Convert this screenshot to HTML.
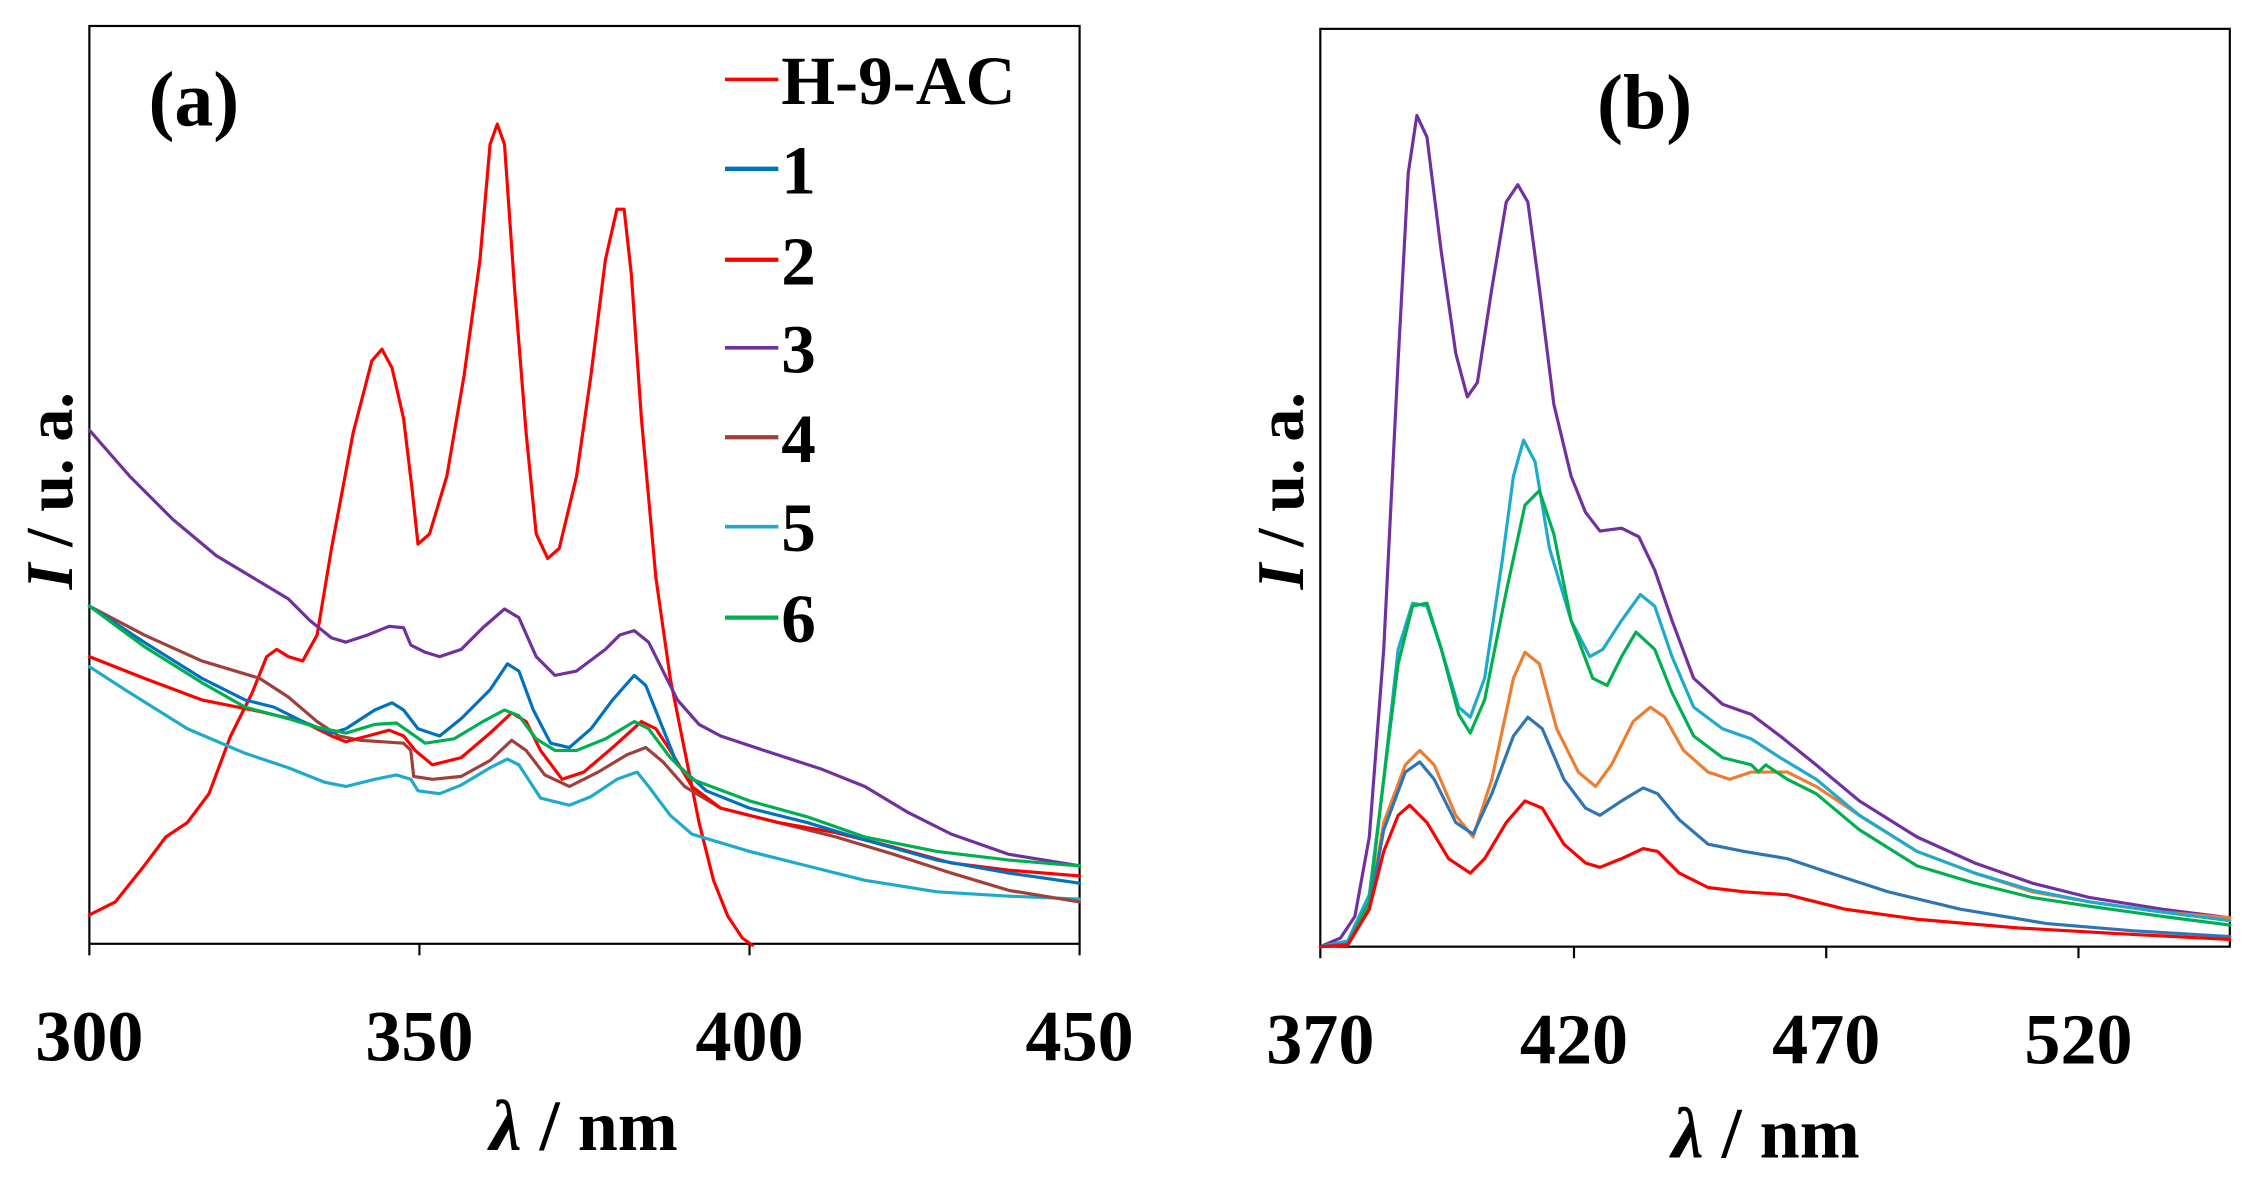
<!DOCTYPE html>
<html><head><meta charset="utf-8"><style>
html,body{margin:0;padding:0;background:#fff;}
svg{display:block;}
text{font-family:"Liberation Serif",serif;font-weight:bold;fill:#000;}
polyline{fill:none;stroke-width:2.2;stroke-linejoin:round;stroke-linecap:round;}
</style></head><body>
<svg width="2250" height="1192" viewBox="0 0 1561 826" preserveAspectRatio="none" xmlns="http://www.w3.org/2000/svg">
<rect x="0" y="0" width="1561" height="826" fill="#fff"/>
<rect x="62" y="18" width="687" height="636" fill="none" stroke="#000" stroke-width="1.5"/>
<g stroke="#000" stroke-width="1.5">
<line x1="62" y1="654" x2="62" y2="662"/><line x1="291" y1="654" x2="291" y2="662"/>
<line x1="520" y1="654" x2="520" y2="662"/><line x1="749" y1="654" x2="749" y2="662"/>
</g>
<g font-size="50" text-anchor="middle">
<text x="62" y="735">300</text><text x="291" y="735">350</text><text x="520" y="735">400</text><text x="749" y="735">450</text>
</g>
<text x="405" y="797" font-size="50" text-anchor="middle"><tspan font-style="italic">λ</tspan> / nm</text>
<text transform="translate(50,340) rotate(-90)" font-size="46" text-anchor="middle"><tspan font-style="italic">I</tspan> / u. a.</text>
<text x="103" y="87" font-size="54">(a)</text>
<g font-size="48">
<line x1="503" y1="55" x2="540" y2="55" stroke="#ff0000" stroke-width="2.5"/><text x="542" y="72">H-9-AC</text>
<line x1="503" y1="117" x2="540" y2="117" stroke="#0070c0" stroke-width="3"/><text x="542" y="134">1</text>
<line x1="503" y1="180" x2="540" y2="180" stroke="#ff0000" stroke-width="3"/><text x="542" y="197">2</text>
<line x1="503" y1="241" x2="540" y2="241" stroke="#7030a0" stroke-width="2.5"/><text x="542" y="258">3</text>
<line x1="503" y1="303" x2="540" y2="303" stroke="#a0403a" stroke-width="3"/><text x="542" y="320">4</text>
<line x1="503" y1="365" x2="540" y2="365" stroke="#1eaacc" stroke-width="2.5"/><text x="542" y="382">5</text>
<line x1="503" y1="428" x2="540" y2="428" stroke="#00b050" stroke-width="3"/><text x="542" y="445">6</text>
</g>
<polyline stroke="#ff0000" points="62,634 80,625 100,600 115,580 130,570 145,550 160,510 175,480 185,455 192,450 200,455 210,458 220,440 230,380 245,300 258,250 265,242 272,255 280,290 286,340 290,377 298,370 310,330 322,260 333,180 340,100 345,86 350,100 357,200 365,300 372,370 380,387 388,380 400,330 410,260 420,180 428,145 433,145 438,190 445,290 455,400 465,470 475,520 485,570 495,610 505,635 515,650 522,655"/>
<polyline stroke="#7030a0" points="62,298 90,330 120,360 150,385 180,403 200,415 215,430 230,442 240,445 255,440 270,434 280,435 285,447 295,452 305,455 320,450 335,435 350,422 360,428 372,455 385,468 400,465 420,450 430,440 440,437 450,445 460,465 470,485 485,502 500,510 530,520 570,533 600,545 630,563 660,578 700,592 749,600"/>
<polyline stroke="#1eaacc" points="62,462 90,480 130,505 170,522 200,532 225,542 240,545 260,540 275,537 285,540 290,548 305,550 320,544 340,532 352,526 360,530 375,553 395,558 410,552 428,540 442,535 450,545 465,565 480,578 520,590 560,600 600,610 650,618 700,621 749,623"/>
<polyline stroke="#a0403a" points="62,420 100,440 140,458 180,470 200,483 220,500 235,510 250,513 280,515 285,520 287,538 300,540 320,538 340,527 355,513 365,520 378,537 395,545 415,535 435,523 448,518 460,528 475,545 500,560 540,570 580,580 620,592 660,605 700,617 749,625"/>
<polyline stroke="#ff0000" points="62,455 100,470 140,485 180,493 210,500 230,510 240,514 255,510 270,506 280,510 288,520 300,530 320,525 340,508 355,494 365,500 375,520 390,540 405,535 425,518 445,500 455,505 465,520 480,545 500,560 540,570 580,577 620,587 660,598 700,603 749,607"/>
<polyline stroke="#0070c0" points="62,420 100,445 140,470 170,485 190,490 210,500 230,508 240,505 260,492 272,487 280,492 290,505 305,510 320,498 340,478 352,460 360,465 370,492 382,515 395,518 410,505 425,485 440,468 448,475 458,500 470,530 490,548 520,560 560,570 600,582 650,596 700,605 749,612"/>
<polyline stroke="#00b050" points="62,420 100,448 140,473 170,490 200,498 220,504 240,508 260,502 275,501 285,508 295,515 315,512 335,500 350,492 360,496 372,512 385,520 400,520 420,512 440,500 450,505 465,525 480,540 520,555 560,566 600,580 650,590 700,596 749,600"/>

<rect x="916" y="20" width="631" height="636" fill="none" stroke="#000" stroke-width="1.5"/>
<g stroke="#000" stroke-width="1.5">
<line x1="916" y1="656" x2="916" y2="664"/><line x1="1092" y1="656" x2="1092" y2="664"/>
<line x1="1267" y1="656" x2="1267" y2="664"/><line x1="1442" y1="656" x2="1442" y2="664"/>
</g>
<g font-size="50" text-anchor="middle">
<text x="916" y="737">370</text><text x="1092" y="737">420</text><text x="1267" y="737">470</text><text x="1442" y="737">520</text>
</g>
<text x="1225" y="802" font-size="50" text-anchor="middle"><tspan font-style="italic">λ</tspan> / nm</text>
<text transform="translate(904,340) rotate(-90)" font-size="46" text-anchor="middle"><tspan font-style="italic">I</tspan> / u. a.</text>
<text x="1108" y="89" font-size="54">(b)</text>
<polyline stroke="#7030a0" points="916,656 930,650 940,635 950,580 960,450 970,250 977,120 983,80 990,95 1000,175 1010,245 1018,275 1025,265 1035,200 1045,140 1053,128 1060,140 1068,200 1078,280 1090,330 1100,355 1110,368 1125,366 1137,372 1148,395 1160,430 1175,470 1195,488 1215,495 1235,510 1260,530 1290,555 1330,580 1370,598 1410,612 1450,622 1500,630 1547,636"/>
<polyline stroke="#ed7d31" points="916,656 935,654 950,630 960,570 975,530 985,520 995,530 1010,565 1022,580 1035,540 1050,470 1058,452 1068,460 1080,505 1095,535 1107,545 1118,530 1133,500 1145,490 1155,497 1168,520 1185,535 1200,540 1215,535 1240,535 1260,545 1290,565 1330,590 1370,605 1410,618 1450,625 1500,632 1547,636"/>
<polyline stroke="#1eaacc" points="916,656 935,652 950,620 960,540 970,450 980,418 990,420 1000,450 1012,490 1020,497 1030,470 1042,390 1050,330 1057,305 1065,320 1075,380 1090,430 1103,455 1112,450 1125,430 1138,412 1148,420 1160,455 1175,490 1195,505 1215,512 1235,525 1260,540 1290,565 1330,590 1370,605 1410,617 1450,625 1500,632 1547,638"/>
<polyline stroke="#00b050" points="916,656 935,654 950,625 960,540 970,460 980,420 990,418 1000,450 1012,495 1020,508 1030,485 1045,410 1058,350 1068,340 1078,370 1090,430 1105,470 1115,475 1125,455 1135,438 1148,450 1160,480 1175,510 1195,525 1215,530 1220,535 1225,530 1240,540 1260,550 1290,575 1330,600 1370,612 1410,622 1450,628 1500,635 1547,641"/>
<polyline stroke="#2e75b6" points="916,656 935,654 950,630 960,575 975,535 985,528 995,540 1010,570 1022,578 1035,550 1050,510 1060,497 1070,505 1085,540 1100,560 1110,565 1125,555 1140,546 1150,550 1165,568 1185,585 1210,590 1240,595 1270,605 1310,618 1360,630 1420,640 1480,645 1547,649"/>
<polyline stroke="#ff0000" points="916,656 935,655 950,630 960,590 970,565 978,558 990,570 1005,595 1020,605 1030,595 1045,570 1058,555 1070,560 1085,585 1100,598 1110,601 1125,595 1140,588 1150,590 1165,605 1185,615 1210,618 1240,620 1280,630 1330,637 1400,643 1470,647 1547,651"/>
</svg>
</body></html>
